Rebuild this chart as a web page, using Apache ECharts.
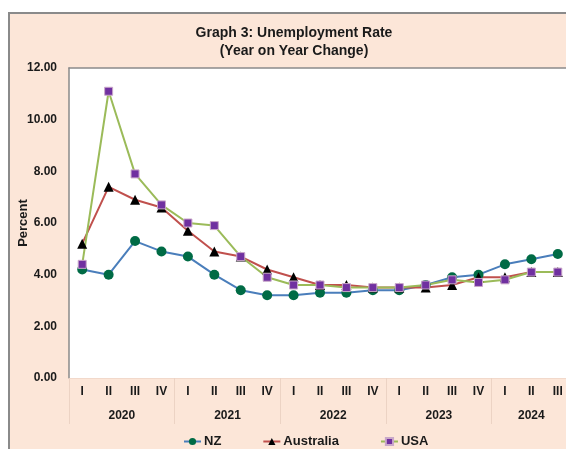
<!DOCTYPE html>
<html>
<head>
<meta charset="utf-8">
<script src="https://cdn.jsdelivr.net/npm/echarts@6/dist/echarts.min.js"></script>
<style>
  html, body { margin: 0; padding: 0; background: #ffffff; overflow: hidden; width: 566px; height: 449px; }
  #frame { position: absolute; left: 8px; top: 12px; width: 600px; height: 460px;
           border: 2px solid #8a8a8a; background: #fce6d8; }
  #chart { width: 600px; height: 460px; }
</style>
</head>
<body>
<div id="frame"><div id="chart"></div></div>
<script>
// Quarterly categories, 2020 Q1 to 2024 Q3
const quarters = ['I','II','III','IV','I','II','III','IV','I','II','III','IV','I','II','III','IV','I','II','III'];
const categoryIds = quarters.map((q, i) => (2020 + Math.floor(i / 4)) + '-' + q);

// Year labels placed at the centre of each year's group of quarters
const years = ['2020', '2021', '2022', '2023', '2024'];
const yearCentres = [2, 6, 10, 14, 17.5];

// Unemployment rate (%)
const nz        = [4.2, 4.0, 5.3, 4.9, 4.7, 4.0, 3.4, 3.2, 3.2, 3.3, 3.3, 3.4, 3.4, 3.6, 3.9, 4.0, 4.4, 4.6, 4.8];
const australia = [5.2, 7.4, 6.9, 6.6, 5.7, 4.9, 4.7, 4.2, 3.9, 3.6, 3.6, 3.5, 3.5, 3.5, 3.6, 3.9, 3.9, 4.1, 4.1];
const usa       = [4.4, 11.1, 7.9, 6.7, 6.0, 5.9, 4.7, 3.9, 3.6, 3.6, 3.5, 3.5, 3.5, 3.6, 3.8, 3.7, 3.8, 4.1, 4.1];

const yTicks = { min: 0, max: 12, interval: 2 };

const FONT = '"Liberation Sans", Arial, sans-serif';
const TEXT = '#1a1a1a';

const chart = echarts.init(document.getElementById('chart'), null, { renderer: 'canvas' });

chart.setOption({
  animation: false,
  title: [
    { text: 'Graph 3: Unemployment Rate', left: 279, top: 7, textAlign: 'center',
      textStyle: { fontFamily: FONT, fontSize: 14, fontWeight: 'bold', color: TEXT } },
    { text: '(Year on Year Change)', left: 279, top: 25, textAlign: 'center',
      textStyle: { fontFamily: FONT, fontSize: 14, fontWeight: 'bold', color: TEXT } }
  ],
  grid: { left: 59, top: 54, width: 502, height: 310, containLabel: false, outerBoundsMode: 'none',
          show: true, backgroundColor: '#ffffff', borderWidth: 0 },
  legend: {
    left: 168, top: 416,
    itemWidth: 17, itemHeight: 9, itemGap: 41,
    textStyle: { fontFamily: FONT, fontSize: 13, fontWeight: 'bold', color: TEXT, padding: [0, 0, 0, -2] },
    data: ['NZ', 'Australia', 'USA']
  },
  xAxis: [
    {
      type: 'category', data: categoryIds, position: 'bottom', boundaryGap: true,
      axisLine: { show: true, lineStyle: { color: '#f2d9cb', width: 1 } },
      axisTick: { show: true, length: 46, inside: false, lineStyle: { color: '#ecd3c4', width: 1 },
                  interval: (i) => i % 4 === 0 },
      axisLabel: { interval: 0, margin: 8, formatter: (v) => v.split('-')[1],
                   fontFamily: FONT, fontSize: 12, fontWeight: 'bold', color: TEXT },
      splitLine: { show: false }
    },
    {
      type: 'value', min: 0, max: 19, interval: 0.5, position: 'bottom', gridIndex: 0,
      axisLine: { show: false }, axisTick: { show: false }, splitLine: { show: false },
      axisLabel: { margin: 32, showMinLabel: true, showMaxLabel: true,
                   fontFamily: FONT, fontSize: 12, fontWeight: 'bold', color: TEXT,
                   formatter: (v) => { const k = yearCentres.indexOf(v); return k >= 0 ? years[k] : ''; } }
    },
    {
      type: 'category', data: categoryIds, position: 'top',
      axisLine: { show: true, lineStyle: { color: '#8a8a8a', width: 1.5 } },
      axisTick: { show: false }, axisLabel: { show: false }
    }
  ],
  yAxis: {
    type: 'value', min: yTicks.min, max: yTicks.max, interval: yTicks.interval,
    name: 'Percent', nameLocation: 'middle', nameGap: 39, nameRotate: 90, nameMoveOverlap: false,
    nameTextStyle: { fontFamily: FONT, fontSize: 13, fontWeight: 'bold', color: TEXT },
    axisLine: { show: true, lineStyle: { color: '#8a8a8a', width: 1.5 } },
    axisTick: { show: false },
    splitLine: { show: false },
    axisLabel: { margin: 12, formatter: (v) => v.toFixed(2),
                 fontFamily: FONT, fontSize: 12, fontWeight: 'bold', color: TEXT }
  },
  series: [
    {
      name: 'NZ', type: 'line', data: nz, xAxisIndex: 0,
      symbol: 'circle', symbolSize: 10,
      lineStyle: { color: '#4a7ebb', width: 2 },
      itemStyle: { color: '#006b45', borderColor: '#006b45', borderWidth: 0 }
    },
    {
      name: 'Australia', type: 'line', data: australia, xAxisIndex: 0,
      symbol: 'triangle', symbolSize: 10,
      lineStyle: { color: '#c0504d', width: 2 },
      itemStyle: { color: '#000000' }
    },
    {
      name: 'USA', type: 'line', data: usa, xAxisIndex: 0,
      symbol: 'rect', symbolSize: 8,
      lineStyle: { color: '#9bbb59', width: 2 },
      itemStyle: { color: '#7030a0', borderColor: '#c9a8c9', borderWidth: 1 }
    }
  ]
});
</script>
</body>
</html>
